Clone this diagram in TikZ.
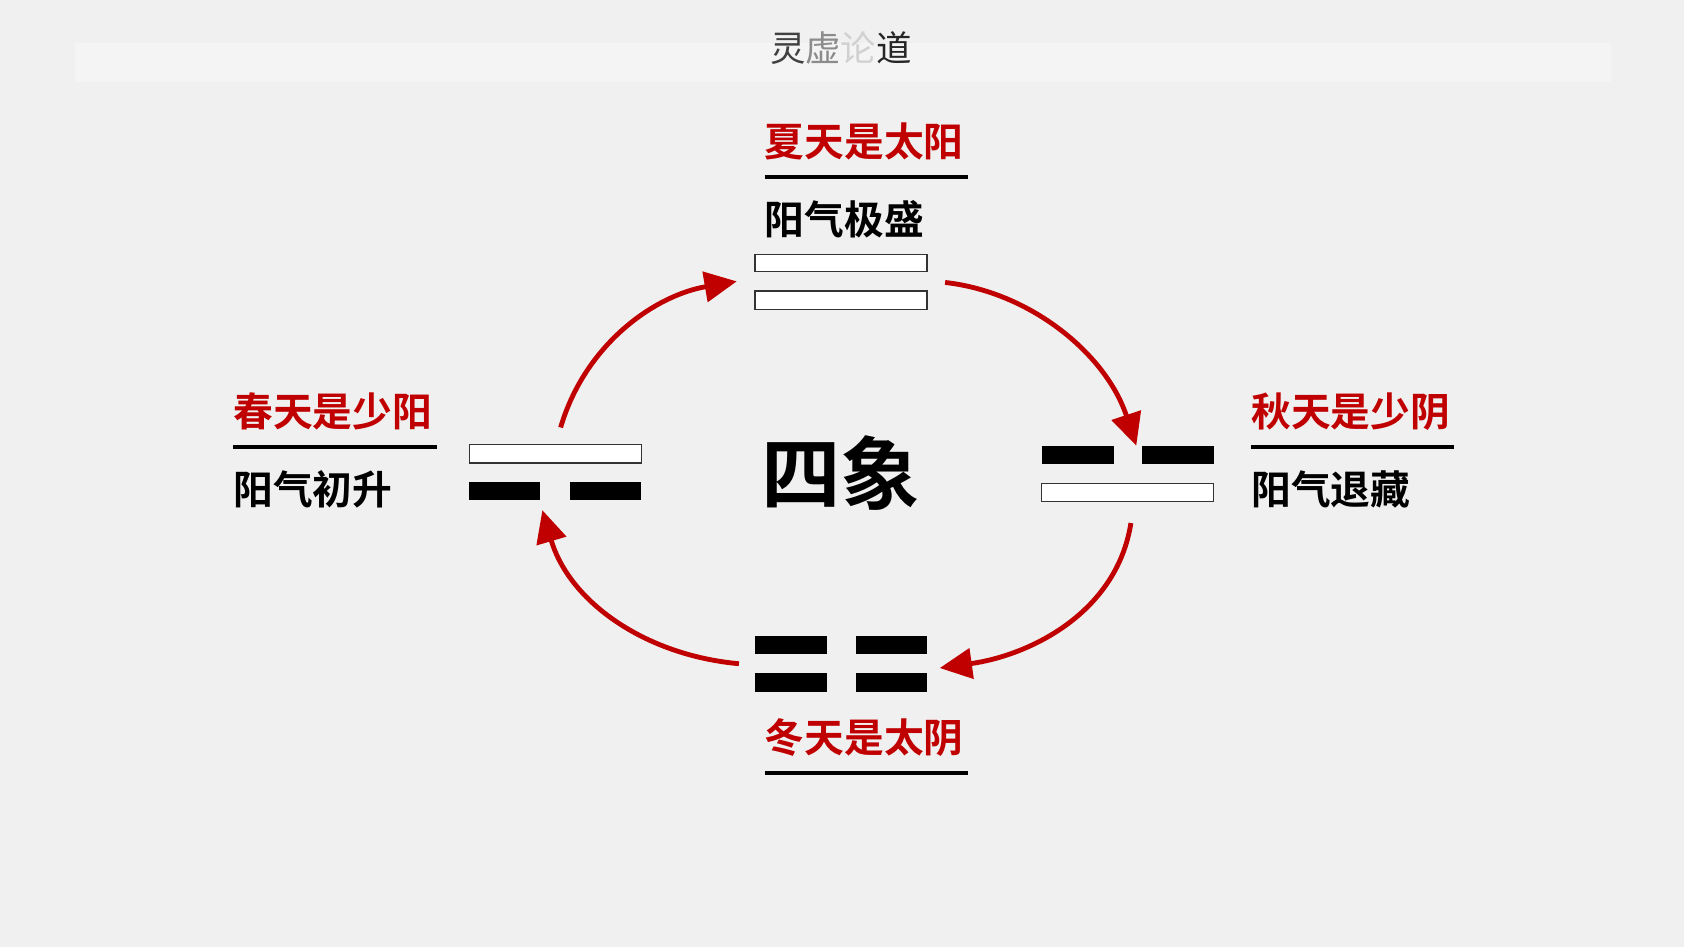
\documentclass[tikz,border=0pt]{standalone}
\usepackage{fontspec}
\setmainfont{Noto Sans CJK SC}[BoldFont=* Bold]
\usetikzlibrary{arrows.meta}
\definecolor{rd}{HTML}{C00000}
\begin{document}
\begin{tikzpicture}[x=1pt,y=-1pt,
 wbar/.style={draw=black!80,fill=white,line width=1.2pt},
 bbar/.style={fill=black},
 head/.style={anchor=west,text=rd,font=\fontsize{37}{37}\selectfont\bfseries,inner sep=0},
 sub/.style={anchor=west,text=black,font=\fontsize{37}{37}\selectfont\bfseries,inner sep=0},
 uline/.style={line width=4pt},
 arr/.style={rd,line width=4.5pt,-{Triangle[length=30pt,width=28pt]}}]
\useasboundingbox (0,0) rectangle (1568,882);
\fill[gray!12] (0,0) rectangle (1568,882);
\fill[gray!9] (70,40) rectangle (1500,76);
\node[inner sep=0,font=\fontsize{33}{33}\selectfont] (title) at (783,45) {\textcolor{black!75}{灵}\textcolor{black!45}{虚}\textcolor{black!18}{论}\textcolor{black!85}{道}};
% top
\node[head] (h1) at (712,132) {夏天是太阳};
\draw[uline] (712,165) -- (901,165);
\node[sub] (s1) at (712,204) {阳气极盛};
\draw[wbar] (703,237) rectangle (863,253);
\draw[wbar] (703,271) rectangle (863,288);
% right
\node[head] (h2) at (1165,383) {秋天是少阴};
\draw[uline] (1165,416) -- (1354,416);
\node[sub] (s2) at (1165,456) {阳气退藏};
\fill[bbar] (970,415) rectangle (1037,432);
\fill[bbar] (1063,415) rectangle (1130,432);
\draw[wbar] (970,450) rectangle (1130,467);
% left
\node[head] (h3) at (217,383) {春天是少阳};
\draw[uline] (217,416) -- (407,416);
\node[sub] (s3) at (217,456) {阳气初升};
\draw[wbar] (437,414) rectangle (597,431);
\fill[bbar] (437,449) rectangle (503,466);
\fill[bbar] (531,449) rectangle (597,466);
% bottom
\fill[bbar] (703,592) rectangle (770,609);
\fill[bbar] (797,592) rectangle (863,609);
\fill[bbar] (703,627) rectangle (770,644);
\fill[bbar] (797,627) rectangle (863,644);
\node[head] (h4) at (712,687) {冬天是太阴};
\draw[uline] (712,720) -- (901,720);
% centre
\node[inner sep=0,font=\fontsize{74}{74}\selectfont\bfseries] (c) at (783,440) {四象};
% arrows
\coordinate (a1) at (522,398); \coordinate (b1) at (686,262);
\coordinate (a2) at (880,263); \coordinate (b2) at (1058,415);
\coordinate (a3) at (1053,487); \coordinate (b3) at (875,622);
\coordinate (a4) at (688,618); \coordinate (b4) at (505,475);
\draw[arr] (a1) .. controls (545,320) and (610,275) .. (b1);
\draw[arr] (a2) .. controls (960,272) and (1030,330) .. (b2);
\draw[arr] (a3) .. controls (1040,570) and (960,610) .. (b3);
\draw[arr] (a4) .. controls (600,610) and (530,560) .. (b4);
\end{tikzpicture}
\end{document}
